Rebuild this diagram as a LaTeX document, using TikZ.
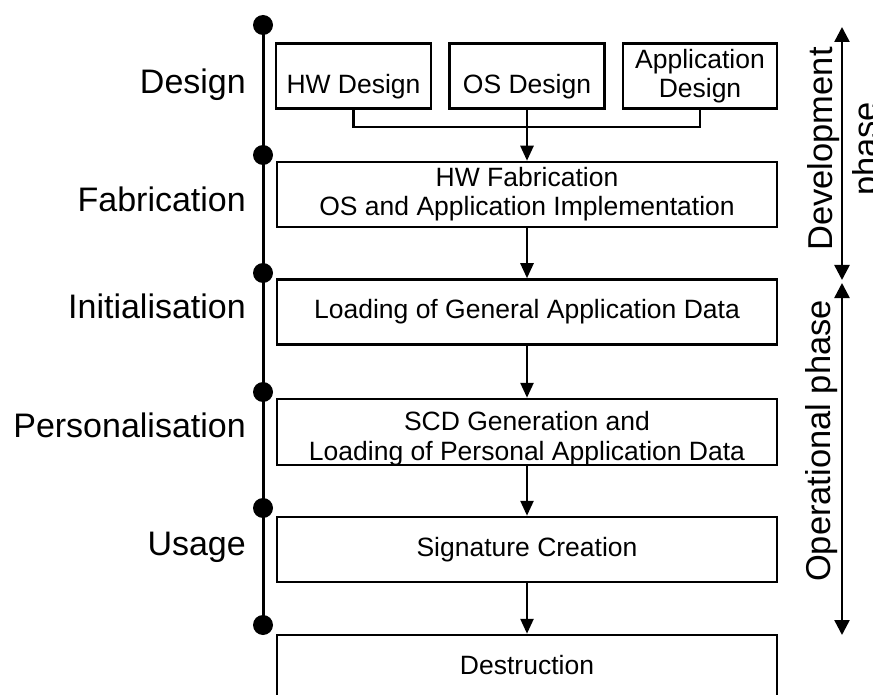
\documentclass[tikz,border=0pt]{standalone}
\usepackage{fontspec}
\setmainfont{Liberation Sans}
\usetikzlibrary{arrows.meta}
\tikzset{
  stagebox/.style={draw, line width=2.5pt, rectangle, inner sep=0pt, minimum height=65pt, align=center, font=\fontsize{26.5}{29}\selectfont},
  boxtext/.style={inner sep=0pt, align=center, font=\fontsize{26.5}{30}\selectfont},
  flow/.style={line width=2.5pt, -{Triangle[length=15pt,width=13pt]}},
  phasearrow/.style={line width=2.5pt, {Triangle[length=15pt,width=15pt]}-{Triangle[length=15pt,width=15pt]}},
  stagelabel/.style={anchor=base east, inner sep=0pt, font=\fontsize{34}{40}\selectfont},
  phaselabel/.style={anchor=base, rotate=90, inner sep=0pt, align=center, font=\fontsize{34.5}{45}\selectfont},
  milestone/.style={circle, fill=black, inner sep=0pt, minimum size=20pt},
}
\begin{document}
\begin{tikzpicture}[x=1pt, y=-1pt]
                    \useasboundingbox (0,0) rectangle (873,695);
                    \clip (0,0) rectangle (873,695);

                    % Marking milestones on the life line
                    \node (m1) [milestone] at (263,25) {};%
                    \node (m2) [milestone] at (263,155) {};%
                    \node (m3) [milestone] at (263,273) {};%
                    \node (m4) [milestone] at (263,392) {};%
                    \node (m5) [milestone] at (263,508) {};%
                    \node (m6) [milestone] at (263,625) {};%

                    % Drawing life line
                    \draw [line width=3pt] (m1.center) -- (m6.center);%

                    % Marking stage names
                    \node (ldesign) [stagelabel] at (246,94) {Design};%
                    \node (lfab) [stagelabel] at (246,212) {Fabrication};%
                    \node (linit) [stagelabel] at (246,318) {Initialisation};%
                    \node (lpers) [stagelabel] at (246,437) {Personalisation};%
                    \node (lusage) [stagelabel] at (246,555) {Usage};%

                    % Drawing design boxes
                    \node (hw) [stagebox, minimum width=155pt, text height=40pt, text depth=4pt] at (353.5,76) {HW Design};%
                    \node (os) [stagebox, minimum width=155pt, text height=40pt, text depth=4pt] at (527,76) {OS Design};%
                    \node (app) [stagebox, minimum width=154pt] at (700,76) {Application\\Design};%

                    % Drawing stage boxes
                    \node (fab) [stagebox, minimum width=500pt] at (527,194.5) {HW Fabrication\\OS and Application Implementation};%
                    \node (init) [stagebox, minimum width=500pt] at (527,312) {Loading of General Application Data};%
                    \node (pers) [stagebox, minimum width=500pt, minimum height=66pt] at (527,432) {};%
                    \node (perstext) [boxtext, anchor=base] at (527,460) {SCD Generation and\\Loading of Personal Application Data};%
                    \node (usage) [stagebox, minimum width=500pt] at (527,549.5) {Signature Creation};%
                    \node (destr) [stagebox, minimum width=500pt, text height=19pt, text depth=6pt] at (527,667.5) {Destruction};%

                    % Drawing design join
                    \coordinate (join) at (527,127);
                    \draw [line width=2.5pt] (hw.south) |- (join) -| (app.south);%

                    % Drawing flow arrows
                    \draw [flow] (os.south) -- (fab.north);%
                    \draw [flow] (fab.south) -- (init.north);%
                    \draw [flow] (init.south) -- (pers.north);%
                    \draw [flow] (pers.south) -- (usage.north);%
                    \draw [flow] (usage.south) -- (destr.north);%

                    % Drawing phase arrows
                    \coordinate (devtop) at (842,27);
                    \coordinate (devbot) at (842,280);
                    \coordinate (optop) at (842,283);
                    \coordinate (opbot) at (842,635);
                    \draw [phasearrow] (devtop) -- (devbot);%
                    \draw [phasearrow] (optop) -- (opbot);%

                    % Marking phase names
                    \node (ldev) [phaselabel] at (877,149) {Development\\phase};%
                    \node (lop) [phaselabel] at (830,441) {Operational phase};%
\end{tikzpicture}
\end{document}
